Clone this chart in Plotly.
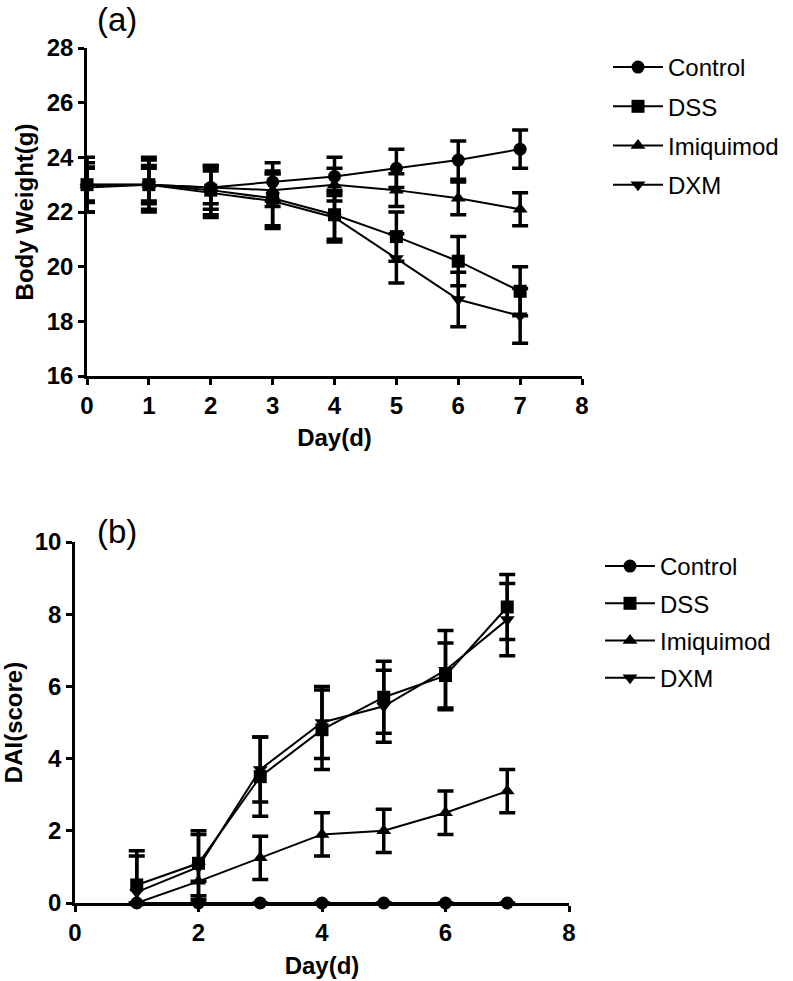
import plotly.graph_objects as go

# ---------------- data ----------------
days_a = [0, 1, 2, 3, 4, 5, 6, 7]
bw_control = [23.0, 23.0, 22.9, 23.1, 23.3, 23.6, 23.9, 24.3]
bw_control_err = [0.65, 0.7, 0.8, 0.7, 0.7, 0.7, 0.7, 0.7]
bw_dss = [23.0, 23.0, 22.8, 22.5, 21.9, 21.1, 20.2, 19.1]
bw_dss_err = [1.0, 1.0, 0.9, 1.0, 0.9, 0.9, 0.9, 0.9]
bw_imq = [23.0, 23.0, 22.9, 22.8, 23.0, 22.8, 22.5, 22.1]
bw_imq_err = [0.6, 0.6, 0.6, 0.6, 0.6, 0.6, 0.6, 0.6]
bw_dxm = [22.9, 23.0, 22.7, 22.4, 21.8, 20.3, 18.8, 18.2]
bw_dxm_err = [0.9, 0.9, 0.9, 1.0, 0.9, 0.9, 1.0, 1.0]

days_b = [1, 2, 3, 4, 5, 6, 7]
dai_control = [0, 0, 0, 0, 0, 0, 0]
dai_control_err = [0, 0, 0, 0, 0, 0, 0]
dai_dss = [0.5, 1.1, 3.5, 4.8, 5.7, 6.3, 8.2]
dai_dss_err = [0.95, 0.9, 1.1, 1.1, 1.0, 0.9, 0.9]
dai_imq = [0.0, 0.6, 1.25, 1.9, 2.0, 2.5, 3.1]
dai_imq_err = [0.0, 0.0, 0.6, 0.6, 0.6, 0.6, 0.6]
dai_dxm = [0.3, 1.0, 3.7, 5.0, 5.45, 6.45, 7.85]
dai_dxm_err = [1.0, 0.9, 0.9, 1.0, 1.0, 1.1, 1.0]

names = ["Control", "DSS", "Imiquimod", "DXM"]
symbols = ["circle", "square", "triangle-up", "triangle-down"]

FONT = "Liberation Sans, Arial, sans-serif"

fig = go.Figure()

def add(x, y, e, i, xa, ya, legend):
    fig.add_trace(go.Scatter(
        x=x, y=y, name=names[i], mode="lines+markers",
        xaxis=xa, yaxis=ya, legend=legend, legendgroup=legend + names[i],
        line=dict(color="black", width=2),
        marker=dict(symbol=symbols[i], size=13, color="black"),
        error_y=dict(type="data", array=e, visible=True, color="black",
                     thickness=3.5, width=8),
        cliponaxis=False,
    ))

series_a = [(bw_control, bw_control_err), (bw_dss, bw_dss_err),
            (bw_imq, bw_imq_err), (bw_dxm, bw_dxm_err)]
series_b = [(dai_control, dai_control_err), (dai_dss, dai_dss_err),
            (dai_imq, dai_imq_err), (dai_dxm, dai_dxm_err)]

for i, (y, e) in enumerate(series_a):
    add(days_a, y, e, i, "x", "y", "legend")
for i, (y, e) in enumerate(series_b):
    add(days_b, y, e, i, "x2", "y2", "legend2")

W, H = 793, 981
def px_x(p): return p / W
def px_y(p): return 1 - p / H

axis_common = dict(
    showline=True, linecolor="black", linewidth=2.5,
    ticks="outside", ticklen=6, tickwidth=2.5, tickcolor="black",
    showgrid=False, zeroline=False, automargin=False,
    tickfont=dict(family=FONT, size=24, color="black", weight="bold"),
    title_font=dict(family=FONT, size=24, color="black", weight="bold"),
)

fig.update_layout(
    template="none",
    width=W, height=H,
    margin=dict(l=0, r=0, t=0, b=0, autoexpand=False),
    plot_bgcolor="white", paper_bgcolor="white",
    xaxis=dict(domain=[px_x(87), px_x(582)], range=[0, 8], dtick=1,
               anchor="y", title=dict(text="Day(d)", standoff=12), **axis_common),
    yaxis=dict(domain=[px_y(376), px_y(48)], range=[16, 28], dtick=2,
               anchor="x", title=dict(text="Body Weight(g)", standoff=7), **axis_common),
    xaxis2=dict(domain=[px_x(75), px_x(569)], range=[0, 8], dtick=2,
                anchor="y2", title=dict(text="Day(d)", standoff=13), **axis_common),
    yaxis2=dict(domain=[px_y(903), px_y(542)], range=[0, 10], dtick=2,
                anchor="x2", title=dict(text="DAI(score)", standoff=14), **axis_common),
    legend=dict(x=px_x(608), y=px_y(45), xanchor="left", yanchor="top",
                font=dict(family=FONT, size=24, color="black"),
                tracegroupgap=5, itemwidth=50, bgcolor="rgba(0,0,0,0)"),
    legend2=dict(x=px_x(600), y=px_y(544), xanchor="left", yanchor="top",
                 font=dict(family=FONT, size=24, color="black"),
                 tracegroupgap=3, itemwidth=50, bgcolor="rgba(0,0,0,0)"),
    showlegend=True,
    annotations=[
        dict(text="(a)", x=px_x(117), y=px_y(19), xref="paper", yref="paper",
             xanchor="center", yanchor="middle",
             showarrow=False, font=dict(family=FONT, size=33, color="black")),
        dict(text="(b)", x=px_x(117), y=px_y(531), xref="paper", yref="paper",
             xanchor="center", yanchor="middle",
             showarrow=False, font=dict(family=FONT, size=33, color="black")),
    ],
)

fig.write_html(
    "out.html",
    config={"displayModeBar": False},
    post_script="document.body.style.margin='0';document.body.style.overflow='hidden';",
)
